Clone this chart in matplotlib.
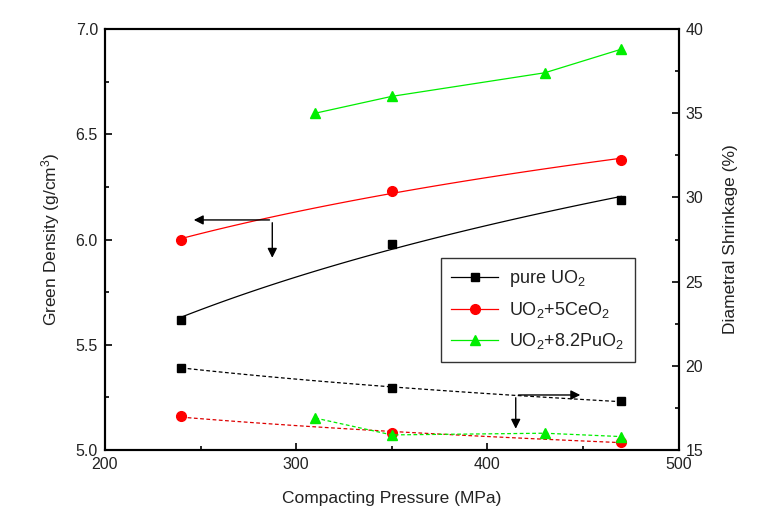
# Green density and diametral shrinkage vs compacting pressure
import numpy as np
import matplotlib
matplotlib.use('Agg')
import matplotlib.pyplot as plt
from matplotlib.ticker import MultipleLocator
from matplotlib.lines import Line2D

plt.rcParams['font.family'] = ['Liberation Sans', 'DejaVu Sans']
plt.rcParams['mathtext.fontset'] = 'custom'
plt.rcParams['mathtext.rm'] = 'Liberation Sans'
plt.rcParams['mathtext.it'] = 'Liberation Sans:italic'

# pressures (MPa)
p_uo2 = [240, 350, 470]
p_pu = [310, 350, 430, 470]

# green density (g/cm3)
dens_uo2 = [5.62, 5.98, 6.19]
dens_ce = [6.00, 6.23, 6.38]

# diametral shrinkage (%)
shr_pu_top = [35.0, 36.0, 37.4, 38.8]
shr_uo2 = [19.9, 18.7, 17.9]
shr_ce = [17.0, 16.0, 15.5]
shr_pu = [16.9, 15.9, 16.0, 15.8]

labels = ['pure UO$_2$', 'UO$_2$+5CeO$_2$', 'UO$_2$+8.2PuO$_2$']
TXT = '#222222'


def log_fit(x, y):
    # smooth fit line y = a + b*ln(x), drawn between the first and last point
    b, a = np.polyfit(np.log(x), y, 1)
    xs = np.linspace(min(x), max(x), 100)
    return xs, a + b * np.log(xs)


fig = plt.figure(figsize=(7.66, 5.27), dpi=100)
ax = fig.add_axes([0.137, 0.146, 0.749, 0.799])
ax2 = ax.twinx()

# density (left axis)
xs, ys = log_fit(p_uo2, dens_uo2)
ax.plot(xs, ys, color='black', lw=0.9)
ax.plot(p_uo2, dens_uo2, 's', color='black', ms=6)
xs, ys = log_fit(p_uo2, dens_ce)
ax.plot(xs, ys, color='#ff0000', lw=0.9)
ax.plot(p_uo2, dens_ce, 'o', color='#ff0000', ms=7)

# shrinkage (right axis)
ax2.plot(p_pu, shr_pu_top, '-^', color='#00ee00', lw=0.9, ms=7)
xs, ys = log_fit(p_uo2, shr_uo2)
ax2.plot(xs, ys, '--', color='black', lw=0.9, dashes=(3, 2))
ax2.plot(p_uo2, shr_uo2, 's', color='black', ms=6)
xs, ys = log_fit(p_uo2, shr_ce)
ax2.plot(xs, ys, '--', color='#dd0000', lw=0.9, dashes=(3, 2))
ax2.plot(p_uo2, shr_ce, 'o', color='#ff0000', ms=7)
ax2.plot(p_pu, shr_pu, '--^', color='#00ee00', lw=0.9, ms=7, dashes=(3, 2))

# arrows pointing to the axes
arr = dict(arrowstyle='-|>', color='black', lw=1.0, mutation_scale=14)
ax.annotate('', xy=(245, 6.093), xytext=(287.5, 6.093), arrowprops=arr)
ax.annotate('', xy=(287.5, 5.90), xytext=(287.5, 6.093), arrowprops=arr)
ax2.annotate('', xy=(450, 18.27), xytext=(414.8, 18.27), arrowprops=arr)
ax2.annotate('', xy=(414.8, 16.1), xytext=(414.8, 18.27), arrowprops=arr)

ax.set_xlim(200, 500)
ax.set_ylim(5.0, 7.0)
ax2.set_ylim(15, 40)
ax.xaxis.set_major_locator(MultipleLocator(100))
ax.xaxis.set_minor_locator(MultipleLocator(50))
ax.yaxis.set_major_locator(MultipleLocator(0.5))
ax.yaxis.set_minor_locator(MultipleLocator(0.25))
ax.yaxis.set_major_formatter(matplotlib.ticker.FormatStrFormatter('%.1f'))
ax2.yaxis.set_major_locator(MultipleLocator(5))
ax2.yaxis.set_minor_locator(MultipleLocator(2.5))

for a in (ax, ax2):
    a.tick_params(which='major', direction='in', length=5, width=1.2,
                  labelsize=11.5, labelcolor=TXT, pad=5)
    a.tick_params(which='minor', direction='in', length=3, width=1.2)
    for s in a.spines.values():
        s.set_linewidth(1.5)
ax.tick_params(axis='x', top=False)

ax.set_xlabel('Compacting Pressure (MPa)', fontsize=12.5, color=TXT, labelpad=14)
ax.set_ylabel('Green Density (g/cm$^3$)', fontsize=12.5, color=TXT, labelpad=10)
ax2.set_ylabel('Diametral Shrinkage (%)', fontsize=12.5, color=TXT, labelpad=14)

# legend
handles = [
    Line2D([], [], color='black', marker='s', ms=6, lw=0.9),
    Line2D([], [], color='#ff0000', marker='o', ms=7, lw=0.9),
    Line2D([], [], color='#00ee00', marker='^', ms=7, lw=0.9),
]
leg = ax.legend(handles, labels, loc='upper left', bbox_to_anchor=(0.585, 0.457),
                fontsize=13, frameon=True, fancybox=False, edgecolor='black',
                handlelength=2.6, borderpad=0.6, labelspacing=0.6, borderaxespad=0,
                handletextpad=0.6)
leg.get_frame().set_linewidth(1.0)
for t in leg.get_texts():
    t.set_color(TXT)

fig.savefig('out.png', dpi=100)
